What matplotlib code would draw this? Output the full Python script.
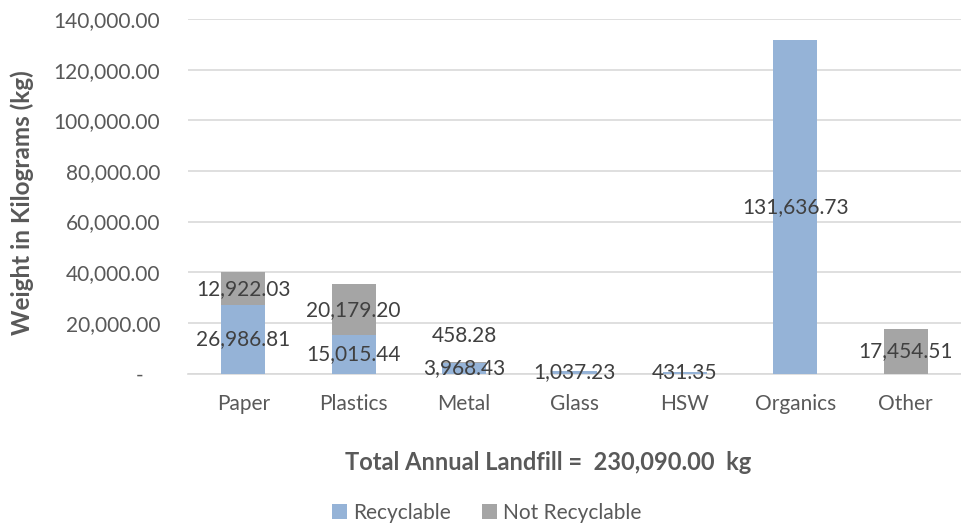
import matplotlib.pyplot as plt

categories = ["Paper", "Plastics", "Metal", "Glass", "HSW", "Organics", "Other"]
recyclable = [26986.81, 15015.44, 3968.43, 1037.23, 431.35, 131636.73, 0]
not_recyclable = [12922.03, 20179.20, 458.28, 0, 0, 0, 17454.51]
yticks = [0, 20000, 40000, 60000, 80000, 100000, 120000, 140000]
total = 230090.00

plt.rcParams['font.family'] = ['Lato', 'DejaVu Sans']

blue = '#95B3D7'
gray = '#A5A5A5'
text_color = '#595959'
label_color = '#404040'

fig = plt.figure(figsize=(9.61, 5.27), dpi=100)
ax = fig.add_axes([188 / 961, 1 - 373.5 / 527, 1 - 188 / 961, (373.5 - 19) / 527])

x = list(range(len(categories)))
b1 = ax.bar(x, recyclable, width=0.4, color=blue, label='Recyclable', zorder=3)
b2 = ax.bar(x, not_recyclable, width=0.4, bottom=recyclable, color=gray,
            label='Not Recyclable', zorder=3)

# data labels, centred in each segment (Excel pushed the small Metal one up)
for i in x:
    r = recyclable[i]
    n = not_recyclable[i]
    if r > 0:
        ax.text(i, r / 2, f"{r:,.2f}", ha='center', va='center',
                fontsize=15, color=label_color, zorder=4)
    if n > 0:
        dy = 19 if categories[i] == "Metal" else 0
        ax.annotate(f"{n:,.2f}", (i, r + n / 2), xytext=(0, dy),
                    textcoords='offset points', ha='center', va='center',
                    fontsize=15, color=label_color, zorder=4)

ax.set_xlim(-0.5, len(categories) - 0.5)
ax.set_ylim(0, 140000)
ax.set_xticks(x)
ax.set_xticklabels(categories)
ax.set_yticks(yticks)
ax.set_yticklabels(["-   " if v == 0 else f"{v:,.2f}" for v in yticks])
ax.tick_params(axis='both', length=0, labelsize=15, labelcolor=text_color)
ax.tick_params(axis='y', pad=20)
ax.tick_params(axis='x', pad=15)

ax.grid(axis='y', color='#D9D9D9', linewidth=1.2, zorder=0)
for s in ['top', 'right', 'left']:
    ax.spines[s].set_visible(False)
ax.spines['bottom'].set_color('#D9D9D9')
ax.spines['bottom'].set_linewidth(1.2)

fig.text(22 / 961, 1 - 203 / 527, "Weight in Kilograms (kg)", rotation=90,
         ha='center', va='center', fontsize=17.5, fontweight='bold', color=text_color)
fig.text(548 / 961, 1 - 463 / 527, f"Total Annual Landfill =  {total:,.2f}  kg",
         ha='center', va='center', fontsize=17, fontweight='bold', color=text_color)

fig.legend(handles=[b1, b2], loc='center', bbox_to_anchor=(487 / 961, 1 - 513 / 527),
           ncol=2, frameon=False, fontsize=15, handlelength=0.7, handleheight=0.7,
           handletextpad=0.3, columnspacing=1.5, labelcolor=text_color)

plt.savefig("out.png", dpi=100)
